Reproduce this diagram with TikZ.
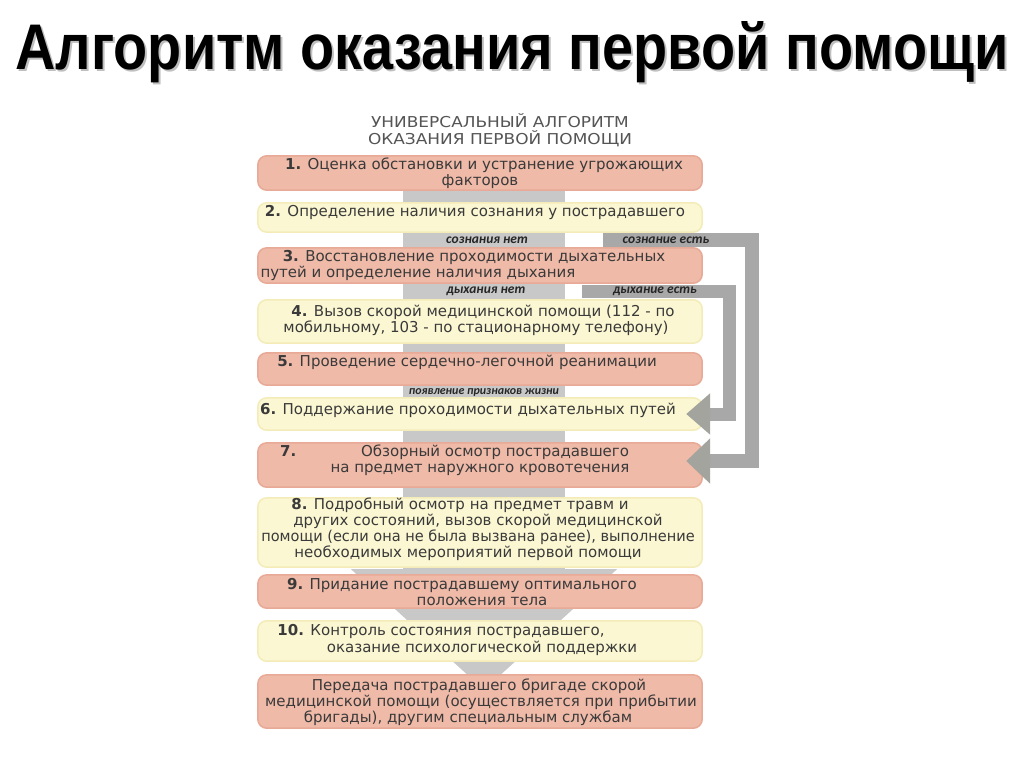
\documentclass[tikz,border=0pt]{standalone}
\usepackage{fontspec}
\usetikzlibrary{arrows.meta,calc}
\setmainfont{DejaVu Sans}
\newfontfamily\titlefont{Liberation Sans}
\newfontfamily\lblfont{Carlito}
\definecolor{pinkfill}{HTML}{EFBAA8}
\definecolor{pinkedge}{HTML}{E8AA96}
\definecolor{yelfill}{HTML}{FBF7D2}
\definecolor{yeledge}{HTML}{F3ECB8}
\definecolor{bandgray}{HTML}{C8C8C8}
\definecolor{sidegray}{HTML}{A8A8A8}
\definecolor{headgray}{HTML}{A4A49E}
\definecolor{txtcol}{HTML}{3A3A3A}
\definecolor{subcol}{HTML}{555555}
\tikzset{
  pinkbox/.style={fill=pinkfill, draw=pinkedge, line width=1.5pt, rounded corners=9pt, minimum width=444pt, inner sep=0pt},
  yelbox/.style={fill=yelfill, draw=yeledge, line width=1.5pt, rounded corners=9pt, minimum width=444pt, inner sep=0pt},
  txt/.style={anchor=base, inner sep=0pt, text=txtcol, font=\fontsize{15}{17}\selectfont},
  subtxt/.style={anchor=base, inner sep=0pt, text=subcol, font=\fontsize{15}{17}\selectfont},
  bandlbl/.style={inner sep=0pt, text=black!85, font=\lblfont\bfseries\itshape\fontsize{13.5}{15}\selectfont},
  smalllbl/.style={inner sep=0pt, text=black!85, font=\lblfont\bfseries\itshape\fontsize{12}{13}\selectfont},
  sideconn/.style={draw=sidegray, line join=miter},
}
\begin{document}
\begin{tikzpicture}[x=1pt,y=-1pt]
\useasboundingbox (0,0) rectangle (1024,767);
\fill[white] (0,0) rectangle (1024,767);
% title
\node[anchor=base, inner sep=0pt, text=black!25] (titlesh) at (514,72) {\resizebox{993pt}{48pt}{\titlefont\bfseries Алгоритм оказания первой помощи}};
\node[anchor=base, inner sep=0pt, text=black] (title) at (512,70) {\resizebox{993pt}{48pt}{\titlefont\bfseries Алгоритм оказания первой помощи}};
% subtitle
\node[subtxt] (st1) at (500,128) {\scalebox{1.13}[1]{УНИВЕРСАЛЬНЫЙ АЛГОРИТМ}};
\node[subtxt] (st2) at (500,145) {\scalebox{1.13}[1]{ОКАЗАНИЯ ПЕРВОЙ ПОМОЩИ}};
% box shapes (placed first as coordinates)
\path
  (480,173)   node[minimum width=444pt, minimum height=34pt] (b1) {}
  (480,217.5) node[minimum width=444pt, minimum height=29pt] (b2) {}
  (480,265.5) node[minimum width=444pt, minimum height=35pt] (b3) {}
  (480,321.5) node[minimum width=444pt, minimum height=43pt] (b4) {}
  (480,369)   node[minimum width=444pt, minimum height=32pt] (b5) {}
  (480,414)   node[minimum width=444pt, minimum height=32pt] (b6) {}
  (480,465)   node[minimum width=444pt, minimum height=44pt] (b7) {}
  (480,532.5) node[minimum width=444pt, minimum height=69pt] (b8) {}
  (480,591.5) node[minimum width=444pt, minimum height=33pt] (b9) {}
  (480,641)   node[minimum width=444pt, minimum height=40pt] (b10) {}
  (480,701.5) node[minimum width=444pt, minimum height=53pt] (b11) {};
% central band and big arrow
\fill[bandgray] ($(b1.south)+(-77,-5)$) rectangle ($(b8.south)+(85,3)$);
\fill[bandgray] ($(b8.south)+(-129,2)$) -- ($(b8.south)+(137,2)$) -- ($(b11.north)+(4,15)$) -- cycle;
% boxes drawn
\draw[pinkbox] (b1.south west) rectangle (b1.north east);
\draw[yelbox] (b2.south west) rectangle (b2.north east);
\draw[pinkbox] (b3.south west) rectangle (b3.north east);
\draw[yelbox] (b4.south west) rectangle (b4.north east);
\draw[pinkbox] (b5.south west) rectangle (b5.north east);
\draw[yelbox] (b6.south west) rectangle (b6.north east);
\draw[pinkbox] (b7.south west) rectangle (b7.north east);
\draw[yelbox] (b8.south west) rectangle (b8.north east);
\draw[pinkbox] (b9.south west) rectangle (b9.north east);
\draw[yelbox] (b10.south west) rectangle (b10.north east);
\draw[pinkbox] (b11.south west) rectangle (b11.north east);
% band labels
\node[bandlbl] (l1) at (487,240) {сознания нет};
\node[bandlbl] (l2) at (486,291.5) {дыхания нет};
\node[smalllbl] (l3) at (484,392) {появление признаков жизни};
% side connectors
\coordinate (s1) at (603,240);
\coordinate (s2) at (582,291);
\draw[sideconn, line width=14pt, -{Triangle[length=24pt,width=44pt,color=headgray]}]
  (s1) -| ($(b7.east)+(50,-4)$) -- ($(b7.east)+(-16,-4)$);
\draw[sideconn, line width=13pt, -{Triangle[length=24pt,width=40pt,color=headgray]}]
  (s2) -| ($(b6.east)+(27,0)$) -- ($(b6.east)+(-16,0)$);
\node[bandlbl] (l4) at (666,240) {сознание есть};
\node[bandlbl] (l5) at (655,291.5) {дыхание есть};
% texts
\node[txt] (t1a) at (484,170) {{\bfseries 1.} Оценка обстановки и устранение угрожающих};
\node[txt] (t1b) at (480,186) {факторов};
\node[txt] (t2) at (475,217) {{\bfseries 2.} Определение наличия сознания у пострадавшего};
\node[txt] (t3a) at (474,261) {{\bfseries 3.} Восстановление проходимости дыхательных};
\node[txt] (t3b) at (418,277) {путей и определение наличия дыхания};
\node[txt] (t4a) at (483,316) {{\bfseries 4.} Вызов скорой медицинской помощи (112 - по};
\node[txt] (t4b) at (476,332) {мобильному, 103 - по стационарному телефону)};
\node[txt] (t5) at (467,366) {{\bfseries 5.} Проведение сердечно-легочной реанимации};
\node[txt] (t6) at (468,414) {{\bfseries 6.} Поддержание проходимости дыхательных путей};
\node[txt, anchor=base west] (t7n) at (280,456) {{\bfseries 7.}};
\node[txt] (t7a) at (495,456) {Обзорный осмотр пострадавшего};
\node[txt] (t7b) at (480,472) {на предмет наружного кровотечения};
\node[txt] (t8a) at (460,509) {{\bfseries 8.} Подробный осмотр на предмет травм и};
\node[txt] (t8b) at (478,525) {других состояний, вызов скорой медицинской};
\node[txt] (t8c) at (478,541) {\scalebox{0.97}[1]{помощи (если она не была вызвана ранее), выполнение}};
\node[txt] (t8d) at (468,557) {необходимых мероприятий первой помощи};
\node[txt] (t9a) at (462,589) {{\bfseries 9.} Придание пострадавшему оптимального};
\node[txt] (t9b) at (482,605) {положения тела};
\node[txt] (t10a) at (441,635) {{\bfseries 10.} Контроль состояния пострадавшего,};
\node[txt] (t10b) at (482,652) {оказание психологической поддержки};
\node[txt] (t11a) at (479,690) {Передача пострадавшего бригаде скорой};
\node[txt] (t11b) at (481,706) {медицинской помощи (осуществляется при прибытии};
\node[txt] (t11c) at (468,722) {бригады), другим специальным службам};
\end{tikzpicture}
\end{document}
